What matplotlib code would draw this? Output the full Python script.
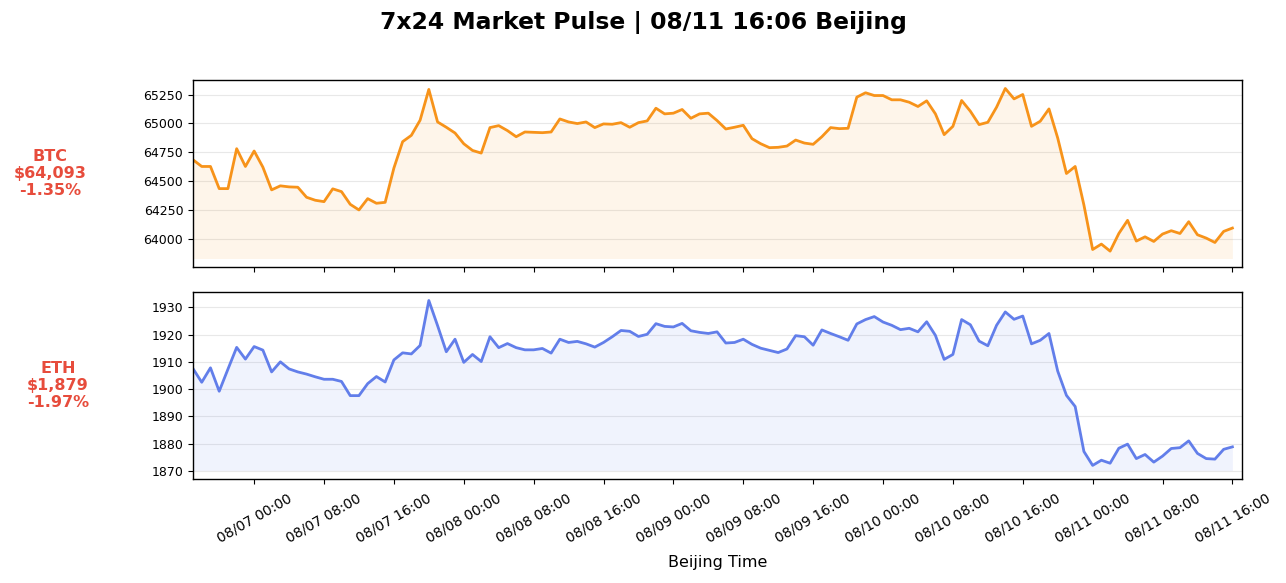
import matplotlib
matplotlib.use("Agg")
import matplotlib.pyplot as plt
import matplotlib.dates as mdates
import pandas as pd
import numpy as np

times = pd.date_range("2024-08-06 17:00", periods=120, freq="h")

btc = [
    64685, 64627, 64627, 64435, 64435, 64781, 64627, 64761, 64621, 64424,
    64459, 64450, 64447, 64360, 64334, 64322, 64433, 64409, 64299, 64250,
    64348, 64308, 64316, 64613, 64842, 64897, 65028, 65295, 65013, 64967,
    64917, 64824, 64766, 64743, 64964, 64981, 64938, 64885, 64926, 64923,
    64920, 64926, 65039, 65013, 64999, 65013, 64964, 64996, 64993, 65007,
    64967, 65007, 65022, 65132, 65083, 65089, 65121, 65045, 65083, 65089,
    65025, 64952, 64967, 64984, 64868, 64824, 64790, 64793, 64804, 64856,
    64830, 64819, 64885, 64964, 64955, 64958, 65228, 65266, 65242, 65242,
    65205, 65205, 65184, 65147, 65196, 65083, 64903, 64975, 65199, 65106,
    64990, 65010, 65141, 65303, 65213, 65251, 64975, 65019, 65126, 64874,
    64566, 64627, 64293, 63907, 63954, 63893, 64046, 64160, 63980, 64017,
    63977, 64041, 64070, 64046, 64148, 64035, 64006, 63968, 64064, 64093,
]

eth = [
    1907.5, 1902.5, 1907.8, 1899.2, 1907.3, 1915.3, 1911.0, 1915.6, 1914.3, 1906.3,
    1910.0, 1907.4, 1906.3, 1905.5, 1904.5, 1903.6, 1903.6, 1902.8, 1897.6, 1897.6,
    1902.0, 1904.6, 1902.6, 1910.7, 1913.3, 1912.9, 1916.0, 1932.5, 1923.3, 1913.7,
    1918.3, 1909.8, 1912.7, 1910.1, 1919.2, 1915.2, 1916.7, 1915.2, 1914.4, 1914.4,
    1914.9, 1913.2, 1918.3, 1917.1, 1917.5, 1916.6, 1915.4, 1917.1, 1919.2, 1921.5,
    1921.2, 1919.3, 1920.1, 1924.0, 1923.0, 1922.8, 1924.1, 1921.4, 1920.8, 1920.4,
    1921.0, 1916.9, 1917.1, 1918.3, 1916.4, 1915.0, 1914.2, 1913.4, 1914.7, 1919.6,
    1919.2, 1916.1, 1921.7, 1920.4, 1919.2, 1917.9, 1923.9, 1925.5, 1926.6, 1924.6,
    1923.4, 1921.8, 1922.3, 1921.0, 1924.7, 1919.7, 1910.9, 1912.7, 1925.5, 1923.6,
    1917.6, 1915.9, 1923.4, 1928.3, 1925.6, 1926.8, 1916.6, 1917.9, 1920.4, 1906.6,
    1897.7, 1893.6, 1877.1, 1872.0, 1873.9, 1872.8, 1878.3, 1879.8, 1874.5, 1876.0,
    1873.2, 1875.4, 1878.2, 1878.5, 1881.0, 1876.4, 1874.5, 1874.3, 1877.9, 1878.8,
]

symbols = ["BTC", "ETH"]
price_labels = ["$64,093", "$1,879"]
change_labels = ["-1.35%", "-1.97%"]
colors = ["#F7931A", "#627EEA"]
title = "7x24 Market Pulse | 08/11 16:06 Beijing"

W, H = 1286, 583
fig = plt.figure(figsize=(W / 100, H / 100), dpi=100)

left = 193 / W
width = (1242 - 193) / W
ax_btc = fig.add_axes([left, 1 - 267 / H, width, (267 - 80) / H])
ax_eth = fig.add_axes([left, 1 - 479 / H, width, (479 - 292) / H], sharex=ax_btc)

series = [btc, eth]
label_x = [50, 58]
for ax, vals, col, sym, pl, cl, lx in zip([ax_btc, ax_eth], series, colors, symbols,
                                          price_labels, change_labels, label_x):
    v = np.array(vals, dtype=float)
    base = v.min() * 0.999
    ax.plot(times, v, color=col, linewidth=2)
    ax.fill_between(times, v, base, color=col, alpha=0.09, linewidth=0)
    ax.grid(axis="y", color="#e8e8e8", linewidth=0.8)
    ax.set_axisbelow(True)
    ax.tick_params(axis="y", labelsize=9)
    ax.tick_params(axis="x", labelsize=10, pad=5)
    for s in ax.spines.values():
        s.set_linewidth(1.0)
    bbox = ax.get_position()
    yc = bbox.y0 + bbox.height / 2
    fig.text(lx / W, yc, f"{sym}\n{pl}\n{cl}", color="#E74C3C", fontsize=11.5,
             fontweight="bold", ha="center", va="center", multialignment="center")

ax_btc.set_xlim(times[0], times[-1] + pd.Timedelta(minutes=66))
ax_eth.xaxis.set_major_locator(mdates.HourLocator(byhour=[0, 8, 16]))
ax_eth.xaxis.set_major_formatter(mdates.DateFormatter("%m/%d %H:%M"))
plt.setp(ax_btc.get_xticklabels(), visible=False)
for lab in ax_eth.get_xticklabels():
    lab.set_rotation(30)
    lab.set_ha("center")

ax_eth.set_xlabel("Beijing Time", fontsize=11.5, labelpad=7)
fig.suptitle(title, fontsize=16.9, fontweight="bold", y=1 - 23 / H, va="center")

fig.savefig("out.png", dpi=100)
